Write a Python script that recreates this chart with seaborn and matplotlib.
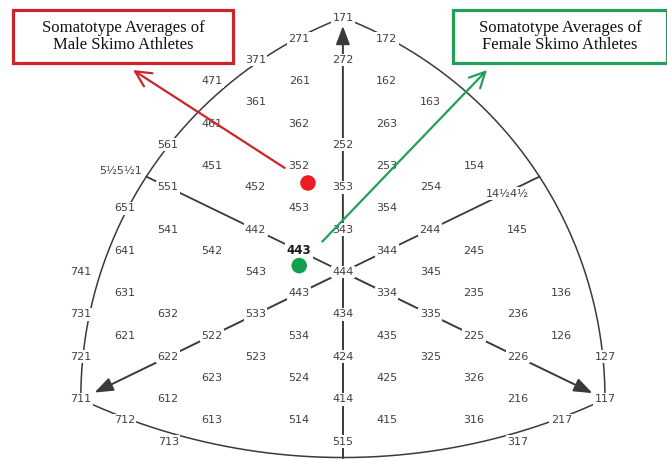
import numpy as np
import pandas as pd
import matplotlib
matplotlib.use("Agg")
import matplotlib.pyplot as plt
from matplotlib.patches import Rectangle
import seaborn as sns

# ---------------- data ----------------
# somatotype grid labels (text) and their components (endo, meso, ecto)
grid_labels = ["171", "271", "172", "272", "371", "261", "162", "471", "361", "163",
               "362", "263", "461", "561", "252", "451", "352", "253", "154", "551",
               "452", "353", "254", "651", "541", "442", "453", "343", "354", "244",
               "145", "641", "542", "543", "344", "245", "741", "444", "345", "631",
               "443", "334", "235", "136", "731", "632", "533", "434", "335", "236",
               "621", "522", "534", "435", "225", "126", "721", "622", "523", "424",
               "325", "226", "127", "623", "524", "425", "326", "711", "612", "414",
               "216", "117", "712", "613", "514", "415", "316", "217", "713", "515",
               "317", "5½5½1", "14½4½", "443"]
grid_endo = [1, 2, 1, 2, 3, 2, 1, 4, 3, 1, 3, 2, 4, 5, 2, 4, 3, 2, 1, 5,
             4, 3, 2, 6, 5, 4, 4, 3, 3, 2, 1, 6, 5, 5, 3, 2, 7, 4, 3, 6,
             5, 3, 2, 1, 7, 6, 5, 4, 3, 2, 6, 5, 5, 4, 2, 1, 7, 6, 5, 4,
             3, 2, 1, 6, 5, 4, 3, 7, 6, 4, 2, 1, 7, 6, 5, 4, 3, 2, 7, 5,
             3, 5.5, 1, 4]
grid_meso = [7, 7, 7, 7, 7, 6, 6, 7, 6, 6, 6, 6, 6, 6, 5, 5, 5, 5, 5, 5,
             5, 5, 5, 5, 4, 4, 5, 4, 5, 4, 4, 4, 4, 4, 4, 4, 4, 4, 4, 3,
             4, 3, 3, 3, 3, 3, 3, 3, 3, 3, 2, 2, 3, 3, 2, 2, 2, 2, 2, 2,
             2, 2, 2, 2, 2, 2, 2, 1, 1, 1, 1, 1, 1, 1, 1, 1, 1, 1, 1, 1,
             1, 5.5, 4.5, 4]
grid_ecto = [1, 1, 2, 2, 1, 1, 2, 1, 1, 3, 2, 3, 1, 1, 2, 1, 2, 3, 4, 1,
             2, 3, 4, 1, 1, 2, 3, 3, 4, 4, 5, 1, 2, 3, 4, 5, 1, 4, 5, 1,
             4, 4, 5, 6, 1, 2, 3, 4, 5, 6, 1, 2, 4, 5, 5, 6, 1, 2, 3, 4,
             5, 6, 7, 3, 4, 5, 6, 1, 2, 4, 6, 7, 2, 3, 4, 5, 6, 7, 3, 5,
             7, 1, 4.5, 3]

# chart frame somatotypes (endo, meso, ecto)
apex_top = (1, 7, 1)
apex_left = (7, 1, 1)
apex_right = (1, 1, 7)
left_mid = (5.5, 5.5, 1)
right_mid = (1, 5.5, 5.5)
bottom_mid = (5.375, 1, 5.375)

# group averages
groups = ["Male", "Female"]
avg_endo = [2.9, 3.6]
avg_meso = [4.6, 3.25]
avg_ecto = [2.1, 2.6]

box_titles = ["Somatotype Averages of\nMale Skimo Athletes",
              "Somatotype Averages of\nFemale Skimo Athletes"]


def to_xy(endo, meso, ecto):
    endo, meso, ecto = np.asarray(endo, float), np.asarray(meso, float), np.asarray(ecto, float)
    return ecto - endo, 2 * meso - endo - ecto


# ---------------- figure ----------------
sns.set_theme(style="white")
plt.rcParams["font.family"] = ["DejaVu Sans"]

fig = plt.figure(figsize=(6.67, 4.59), dpi=100)
ax = fig.add_axes([0, 0, 1, 1])
ax.set_xlim(-7.85, 7.42)
ax.set_ylim(-8.82, 12.83)
ax.axis("off")

K = (459 / 21.65) / (667 / 15.27)  # vertical/horizontal pixel ratio per unit
LC = "#3a3a3a"


def arc_pts(p1, p2, p3, n=300):
    (x1, y1), (x2, y2), (x3, y3) = [(p[0], p[1] * K) for p in (p1, p2, p3)]
    d = 2 * (x1 * (y2 - y3) + x2 * (y3 - y1) + x3 * (y1 - y2))
    ux = ((x1**2 + y1**2) * (y2 - y3) + (x2**2 + y2**2) * (y3 - y1) + (x3**2 + y3**2) * (y1 - y2)) / d
    uy = ((x1**2 + y1**2) * (x3 - x2) + (x2**2 + y2**2) * (x1 - x3) + (x3**2 + y3**2) * (x2 - x1)) / d
    r = np.hypot(x1 - ux, y1 - uy)
    a1 = np.arctan2(y1 - uy, x1 - ux)
    a2 = np.arctan2(y2 - uy, x2 - ux)
    a3 = np.arctan2(y3 - uy, x3 - ux)
    tw = 2 * np.pi
    n2, n3 = (a2 - a1) % tw, (a3 - a1) % tw
    if n2 < n3:
        t = np.linspace(a1, a1 + n3, n)
    else:
        t = np.linspace(a1, a1 - (tw - n3), n)
    return ux + r * np.cos(t), (uy + r * np.sin(t)) / K


T = to_xy(*apex_top)
L = to_xy(*apex_left)
R = to_xy(*apex_right)
LM = to_xy(*left_mid)
RM = to_xy(*right_mid)
BM = to_xy(*bottom_mid)

for a, b, c in [(T, LM, L), (T, RM, R), (L, BM, R)]:
    xs, ys = arc_pts(a, b, c)
    ax.plot(xs, ys, color=LC, lw=1.1, zorder=1, solid_capstyle="round")

# axes lines from the centre
ax.plot([0, LM[0]], [0, LM[1]], color=LC, lw=1.3, zorder=1)
ax.plot([0, RM[0]], [0, RM[1]], color=LC, lw=1.3, zorder=1)
ax.plot([0, BM[0]], [0, BM[1]], color=LC, lw=1.4, zorder=1)
for tgt, shr in [(T, 6), (L, 11), (R, 10)]:
    ax.annotate("", xy=tgt, xytext=(0, 0), xycoords="data", textcoords="data",
                arrowprops=dict(arrowstyle="-|>,head_length=0.8,head_width=0.3",
                                mutation_scale=14, color=LC, lw=1.4,
                                shrinkA=0, shrinkB=shr), zorder=1)

# grid labels
gx, gy = to_xy(grid_endo, grid_meso, grid_ecto)
bbox = dict(boxstyle="square,pad=0.12", fc="white", ec="none")
n_lab = len(grid_labels)
for i, (lab, x, y) in enumerate(zip(grid_labels, gx, gy)):
    kw = dict(ha="center", va="center", fontsize=8, color="#404040", bbox=bbox, zorder=3)
    if i == n_lab - 1:  # bold 443
        kw.update(fontsize=8.5, fontweight="bold", color="#1a1a1a")
        ax.text(x, y, lab, **kw)
    elif lab == "5½5½1":
        kw.update(ha="right", bbox=None)
        ax.annotate(lab, xy=(x, y), xytext=(-3, 4), textcoords="offset points",
                    ha="right", va="center", fontsize=8, color="#404040", zorder=3)
    elif lab == "14½4½":
        ax.annotate(lab, xy=(x, y), xytext=(8, 3), textcoords="offset points",
                    ha="center", va="center", fontsize=8, color="#404040", bbox=bbox, zorder=3)
    else:
        ax.text(x, y, lab, **kw)

# group averages
ax_, ay_ = to_xy(avg_endo, avg_meso, avg_ecto)
df = pd.DataFrame({"X": ax_, "Y": ay_, "group": groups})
colors = {"Male": "#ee1c25", "Female": "#12a24e"}
sns.scatterplot(data=df, x="X", y="Y", hue="group", palette=colors, s=125,
                edgecolor="none", legend=False, ax=ax, zorder=6)

# title boxes and arrows
box_colors = ["#c9252b", "#22a05a"]
box_rects = [(13, 10, 220, 53), (453, 10, 214, 53)]
heads = [(133, 70), (487, 70)]
shrinks = [20, 24]
W, H = 667.0, 459.0
for k in range(2):
    x0, y0, w, h = box_rects[k]
    ax.add_patch(Rectangle((x0 / W, 1 - (y0 + h) / H), w / W, h / H,
                           transform=ax.transAxes, fill=False,
                           ec=box_colors[k], lw=2.3, zorder=7, clip_on=False))
    ax.text((x0 + w / 2) / W, 1 - (y0 + h / 2) / H, box_titles[k], transform=ax.transAxes,
            ha="center", va="center", fontsize=12, family=["Liberation Serif"],
            color="#111111", linespacing=1.15, zorder=8)
    hx, hy = heads[k]
    ax.annotate("", xy=(hx / W, 1 - hy / H), xycoords="axes fraction",
                xytext=(ax_[k], ay_[k]), textcoords="data",
                arrowprops=dict(arrowstyle="->,head_length=0.7,head_width=0.35",
                                mutation_scale=16, color=box_colors[k], lw=1.6,
                                shrinkA=shrinks[k], shrinkB=0), zorder=7)

fig.savefig("out.png", dpi=100)
